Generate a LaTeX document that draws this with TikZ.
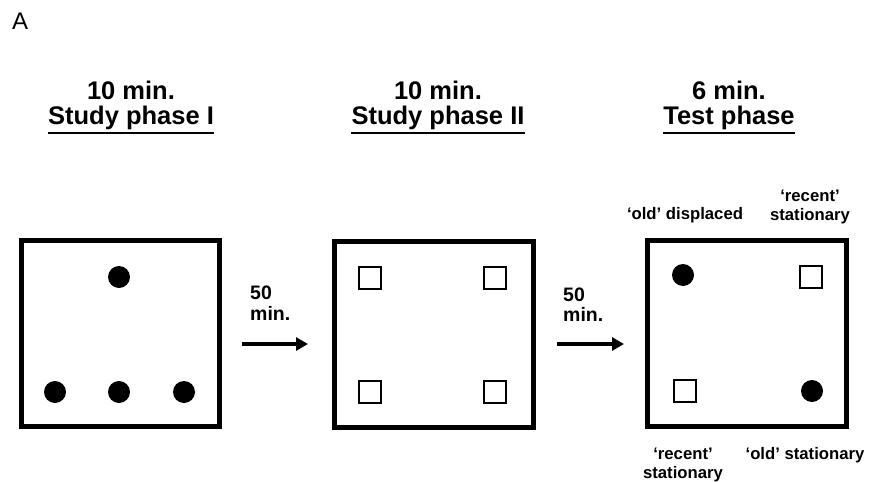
\documentclass[tikz,border=0pt]{standalone}
\usepackage{fontspec}
\setmainfont{Liberation Sans}
\usetikzlibrary{arrows.meta,calc}
\begin{document}
\begin{tikzpicture}[x=1pt,y=-1pt,
  arena/.style={draw=black,line width=5pt,fill=white},
  obj/.style={circle,fill=black,inner sep=0pt,minimum size=22pt},
  cue/.style={draw=black,line width=2pt,fill=white,inner sep=0pt,minimum size=22pt},
  title/.style={font=\fontsize{25.5}{28}\selectfont\bfseries,anchor=base,inner sep=0pt},
  lbl/.style={font=\fontsize{16.7}{20}\selectfont\bfseries,anchor=base,inner sep=0pt},
  delay/.style={font=\fontsize{19.5}{22}\selectfont\bfseries,anchor=base west,inner sep=0pt},
  flow/.style={line width=3.5pt,-{Triangle[length=12pt,width=13pt]}},
  uline/.style={line width=2pt}]
\useasboundingbox (0,0) rectangle (871,482);
\node[font=\fontsize{24}{28}\selectfont,anchor=base west,inner sep=0pt] (lab) at (12,29) {A};
% titles
\node[title] (t1a) at (131,99) {10 min.};
\node[title] (t1b) at (131,124) {Study phase I};
\node[title] (t2a) at (438,99) {10 min.};
\node[title] (t2b) at (438,124) {Study phase II};
\node[title] (t3a) at (729,99) {6 min.};
\node[title] (t3b) at (729,124) {Test phase};
\draw[uline] ($(t1b.base west)+(0,9)$) -- ($(t1b.base east)+(0,9)$);
\draw[uline] ($(t2b.base west)+(0,9)$) -- ($(t2b.base east)+(0,9)$);
\draw[uline] ($(t3b.base west)+(0,9)$) -- ($(t3b.base east)+(0,9)$);
% boxes
\node[arena,minimum width=198pt,minimum height=186pt,inner sep=0pt] (b1) at (120,333) {};
\node[arena,minimum width=199pt,minimum height=186pt,inner sep=0pt] (b2) at (433.5,334.5) {};
\node[arena,minimum width=199pt,minimum height=186pt,inner sep=0pt] (b3) at (746.5,333) {};
% box 1 objects
\node[obj] (o1) at (119,277) {};
\node[obj] (o2) at (55,392) {};
\node[obj] (o3) at (119,392) {};
\node[obj] (o4) at (184,392) {};
% box 2 objects
\node[cue] (c1) at (370,278) {};
\node[cue] (c2) at (495,278) {};
\node[cue] (c3) at (370,392) {};
\node[cue] (c4) at (495,392) {};
% box 3 objects
\node[obj] (d1) at (683,275) {};
\node[cue] (d2) at (811,277) {};
\node[cue] (d3) at (685,391) {};
\node[obj] (d4) at (812,391) {};
% arrows
\coordinate (a1s) at (242,344);
\coordinate (a1e) at (308,344);
\coordinate (a2s) at (557,344);
\coordinate (a2e) at (624,344);
\draw[flow] (a1s) -- (a1e);
\draw[flow] (a2s) -- (a2e);
\node[delay] (m1a) at (250,299) {50};
\node[delay] (m1b) at (250,320) {min.};
\node[delay] (m2a) at (563,301) {50};
\node[delay] (m2b) at (563,321) {min.};
% test labels
\node[lbl] (l1) at (685,219) {‘old’ displaced};
\node[lbl] (l2a) at (810,201) {‘recent’};
\node[lbl] (l2b) at (810,220) {stationary};
\node[lbl] (l3a) at (683,459) {‘recent’};
\node[lbl] (l3b) at (683,478) {stationary};
\node[lbl] (l4) at (805,459) {‘old’ stationary};
\end{tikzpicture}
\end{document}
